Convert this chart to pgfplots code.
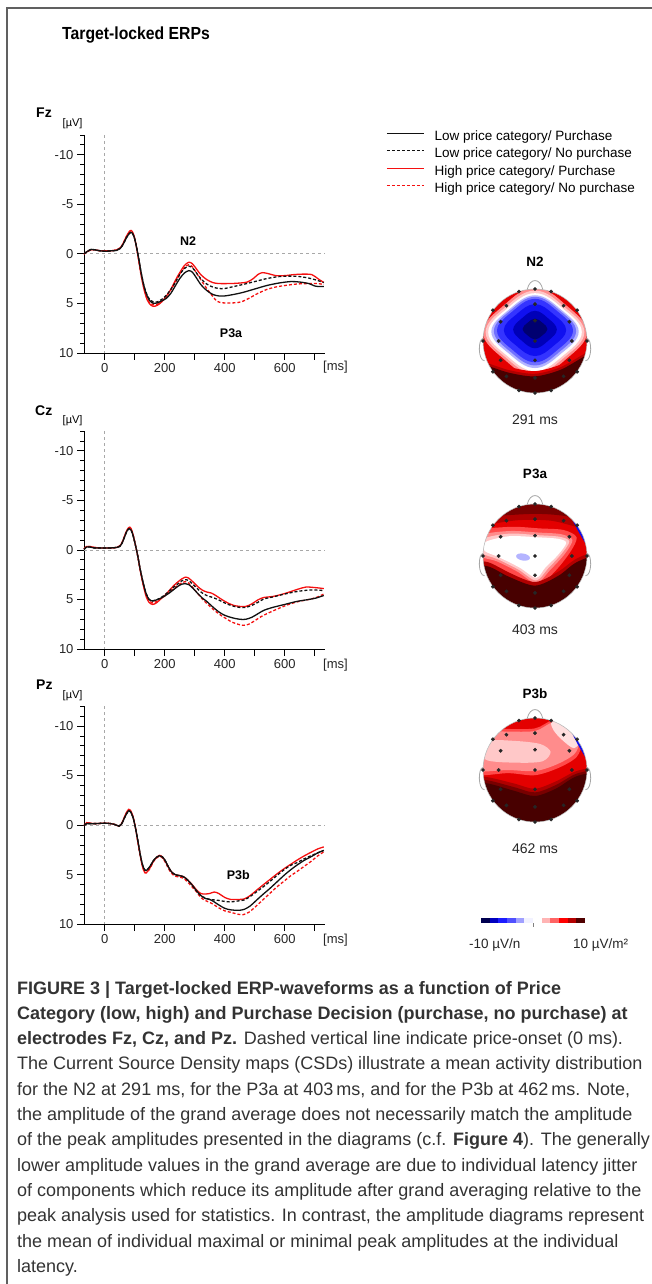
\documentclass[border=0pt]{standalone}
\usepackage{pgfplots}
\pgfplotsset{compat=1.18}
\usepackage{graphicx}
\usepackage{fontspec}
\setmainfont{Liberation Sans}

\definecolor{erpred}{HTML}{F51010}
\definecolor{erpblk}{HTML}{111111}
\definecolor{zgray}{HTML}{A8A8A8}
\definecolor{hb1}{HTML}{000070}
\definecolor{hb2}{HTML}{0000B8}
\definecolor{hb3}{HTML}{1010F0}
\definecolor{hb4}{HTML}{3434FF}
\definecolor{hb5}{HTML}{7070FF}
\definecolor{hb6}{HTML}{B4B4FF}
\definecolor{hp1}{HTML}{FFC8C8}
\definecolor{hp2}{HTML}{FF8C8C}
\definecolor{hp3}{HTML}{FF4A4A}
\definecolor{hr4}{HTML}{E40000}
\definecolor{hr5}{HTML}{B00000}
\definecolor{hr6}{HTML}{780000}
\definecolor{hr7}{HTML}{480000}
\definecolor{cb1}{HTML}{000050}
\definecolor{cb2}{HTML}{0000C0}
\definecolor{cb3}{HTML}{1C1CFF}
\definecolor{cb4}{HTML}{5050FF}
\definecolor{cb5}{HTML}{A0A0FF}
\definecolor{cb6}{HTML}{F2F2FF}
\definecolor{cb7}{HTML}{FFFFFF}
\definecolor{cb8}{HTML}{FFB4B4}
\definecolor{cb9}{HTML}{FF6464}
\definecolor{cb10}{HTML}{FF0000}
\definecolor{cb11}{HTML}{B40000}
\definecolor{cb12}{HTML}{500000}

\newcommand{\fs}[1]{\fontsize{#1}{#1}\selectfont}
\newcommand{\rdiam}[5]{\fill[#1] plot[smooth cycle, tension=0.7] coordinates {({#2},{#3+#5}) ({#2-0.6*#4},{#3+0.6*#5}) ({#2-#4},{#3}) ({#2-0.6*#4},{#3-0.6*#5}) ({#2},{#3-#5}) ({#2+0.6*#4},{#3-0.6*#5}) ({#2+#4},{#3}) ({#2+0.6*#4},{#3+0.6*#5})};}

\pgfplotsset{
  erp/.style={
    scale only axis, width=241pt, height=218pt, anchor=center,
    xmin=-69, xmax=734, ymin=-12, ymax=10, y dir=reverse,
    axis x line*=bottom, axis y line*=left,
    axis line style={black, line width=0.8pt, -},
    tick align=outside,
    xtick={0,100,...,700}, xticklabels={0,,200,,400,,600,},
    ytick={-10,-5,0,5,10}, yticklabels={-10,-5,0,5,10},
    minor ytick={-12,-11,...,10},
    major tick length=7pt, minor tick length=4pt,
    every tick/.style={black, line width=0.8pt},
    tick label style={font=\fs{13}, text=black!85},
    /pgf/number format/assume math mode=true,
    clip=false,
  },
  lp/.style={erpblk, line width=1.3pt, smooth},
  ln/.style={erpblk, line width=1.3pt, smooth, dash pattern=on 3pt off 2pt},
  hp/.style={erpred, line width=1.3pt, smooth},
  hn/.style={erpred, line width=1.3pt, smooth, dash pattern=on 3pt off 2pt},
  head/.style={scale only axis, width=135.2pt, height=135.2pt, anchor=center,
    xmin=-1.3, xmax=1.3, ymin=-1.3, ymax=1.3, hide axis, clip=false},
}

\newcommand{\zerolines}{%
  \draw[zgray, line width=0.7pt, dash pattern=on 3pt off 3pt] (axis cs:-69,0) -- (axis cs:734,0);
  \draw[zgray, line width=0.7pt, dash pattern=on 3pt off 3pt] (axis cs:0,-12) -- (axis cs:0,10);
}
\newcommand{\headmask}{%
  \fill[white, even odd rule] (-1.45,-1.45) rectangle (1.45,1.45) (0,0) circle[radius=52pt];
  \draw[gray!60, line width=0.5pt] (0,0) circle[radius=52pt];
  \draw[gray!70, line width=0.8pt] (-0.15,0.99) .. controls (-0.1,1.22) and (0.1,1.22) .. (0.15,0.99);
  \draw[gray!70, line width=0.8pt] (-0.995,0.05) .. controls (-1.1,0.05) and (-1.1,-0.38) .. (-0.97,-0.38);
  \draw[gray!70, line width=0.8pt] (0.995,0.05) .. controls (1.1,0.05) and (1.1,-0.38) .. (0.97,-0.38);
}
\newcommand{\electrodes}{%
  \addplot[only marks, mark=*, mark size=1.7pt, black!85] coordinates {
    (0,1) (-0.31,0.95) (0.31,0.95)
    (-0.81,0.59) (-0.55,0.68) (0,0.71) (0.55,0.68) (0.81,0.59)
    (-0.66,0.37) (0,0.39) (0.66,0.37)
    (-1,0) (-0.7,0) (0,0) (0.71,0) (1,0)
    (-0.66,-0.37) (0,-0.37) (0.66,-0.37)
    (-0.81,-0.59) (-0.55,-0.68) (0,-0.71) (0.55,-0.68) (0.81,-0.59)
    (-0.31,-0.95) (0,-1) (0.31,-0.95)};
}
\newcommand{\bluesliver}{%
  \fill[hb3] plot[smooth] coordinates {({1.0*cos(14)},{1.0*sin(14)}) ({0.968*cos(22)},{0.968*sin(22)}) ({0.958*cos(29)},{0.958*sin(29)}) ({0.968*cos(36)},{0.968*sin(36)}) ({1.0*cos(44)},{1.0*sin(44)})} -- ({1.1*cos(44)},{1.1*sin(44)}) -- ({1.1*cos(14)},{1.1*sin(14)}) -- cycle;
}

\begin{document}
\begin{tikzpicture}
\path[use as bounding box] (0,0) rectangle (652pt,-1284pt);
\draw[gray!75!black, line width=1.2pt] (7pt,-1284pt) -- (7pt,-8pt) -- (652pt,-8pt);

\node[anchor=base west, inner sep=0pt, font=\bfseries\fs{17.5}] at (62pt,-39.3pt) {\scalebox{0.9}[1]{Target-locked ERPs}};

% ---------------- Fz ----------------
\begin{axis}[erp, at={(204.5pt,-243.9pt)},
  legend style={at={(1.2407,1.028)}, anchor=north west, draw=none, fill=none,
    font=\fs{13.5}, legend cell align=left, row sep=5pt,
    nodes={inner sep=0pt, text height=9.6pt, text depth=2.8pt}},
  legend image code/.code={\draw[#1, line width=1.3pt] (0pt,3.8pt) -- (37pt,3.8pt); \path (47pt,0pt);}]
\addlegendimage{lp}\addlegendentry{Low price category/ Purchase}
\addlegendimage{ln}\addlegendentry{Low price category/ No purchase}
\addlegendimage{hp}\addlegendentry{High price category/ Purchase}
\addlegendimage{hn}\addlegendentry{High price category/ No purchase}
\zerolines
\addplot[hn, forget plot] coordinates {(-69,0.05)(-60,-0.2)(-45,-0.4)(-32,-0.4)(-15,-0.3)(0,-0.3)(20,-0.3)(40,-0.4)(52,-0.6)(62,-1.05)(72,-1.7)(82,-2.15)(89,-2.25)(97,-1.85)(105,-0.8)(113,0.6)(121,2.1)(131,3.5)(141,4.5)(151,5.0)(162,5.15)(175,5.1)(190,4.8)(205,4.3)(220,3.65)(235,2.9)(250,2.05)(265,1.4)(280,1.1)(292,1.3)(305,1.9)(320,2.6)(340,3.5)(360,4.3)(375,4.8)(395,4.95)(430,4.95)(455,4.85)(480,4.5)(510,4.0)(540,3.6)(570,3.35)(600,3.2)(640,3.05)(680,3.0)(710,3.0)(730,3.1)};
\addplot[hp, forget plot] coordinates {(-69,0.05)(-60,-0.2)(-45,-0.4)(-32,-0.4)(-15,-0.3)(0,-0.3)(20,-0.3)(40,-0.4)(52,-0.6)(62,-1.1)(72,-1.75)(82,-2.25)(89,-2.35)(97,-1.9)(105,-0.8)(113,0.6)(121,2.1)(131,3.6)(141,4.6)(151,5.1)(162,5.3)(175,5.2)(190,4.85)(205,4.3)(220,3.6)(235,2.7)(250,1.9)(265,1.2)(280,0.85)(292,1.0)(305,1.5)(320,2.1)(340,2.6)(360,2.9)(380,3.0)(420,3.0)(450,2.95)(475,2.85)(495,2.5)(510,2.1)(525,1.9)(545,2.0)(570,2.2)(600,2.2)(630,2.1)(660,2.05)(690,2.1)(710,2.5)(730,2.9)};
\addplot[ln, forget plot] coordinates {(-69,0.0)(-60,-0.2)(-45,-0.45)(-32,-0.4)(-15,-0.3)(0,-0.25)(20,-0.3)(40,-0.35)(52,-0.55)(62,-1.0)(72,-1.6)(82,-2.05)(90,-2.15)(98,-1.7)(106,-0.7)(114,0.6)(122,2.0)(132,3.35)(142,4.2)(152,4.7)(162,4.85)(175,4.85)(190,4.6)(205,4.2)(220,3.6)(235,2.9)(250,2.1)(265,1.5)(280,1.25)(292,1.4)(305,1.9)(320,2.5)(340,3.05)(360,3.35)(380,3.5)(400,3.5)(430,3.3)(460,3.1)(500,2.8)(540,2.5)(580,2.3)(620,2.25)(650,2.3)(680,2.45)(705,2.65)(730,2.9)};
\addplot[lp, forget plot] coordinates {(-69,0.0)(-60,-0.2)(-45,-0.45)(-32,-0.4)(-15,-0.3)(0,-0.25)(20,-0.3)(40,-0.35)(52,-0.55)(62,-1.0)(72,-1.6)(82,-2.05)(90,-2.15)(98,-1.7)(106,-0.7)(114,0.6)(122,2.0)(132,3.4)(142,4.3)(152,4.8)(162,5.0)(175,4.95)(190,4.75)(205,4.5)(220,4.0)(235,3.25)(250,2.5)(265,1.95)(280,1.7)(292,1.85)(305,2.4)(320,3.1)(340,3.7)(360,4.1)(380,4.25)(400,4.25)(430,4.1)(460,3.9)(500,3.55)(540,3.2)(580,2.95)(620,2.8)(650,2.85)(680,3.0)(700,3.25)(715,3.3)(730,3.3)};
\node[font=\bfseries\fs{12.5}] at (axis cs:278,-1.3) {N2};
\node[font=\bfseries\fs{12.5}] at (axis cs:421,8.0) {P3a};
\end{axis}

% ---------------- Cz ----------------
\begin{axis}[erp, at={(204.5pt,-540pt)}]
\zerolines
\addplot[hn] coordinates {(-69,-0.1)(-60,-0.35)(-50,-0.35)(-35,-0.25)(-15,-0.2)(0,-0.2)(20,-0.2)(40,-0.25)(50,-0.4)(58,-0.75)(66,-1.35)(74,-1.95)(82,-2.2)(88,-2.05)(95,-1.45)(103,-0.4)(110,0.6)(118,2.0)(128,3.4)(138,4.5)(148,5.1)(160,5.35)(172,5.2)(185,4.95)(200,4.65)(215,4.3)(230,3.9)(245,3.55)(258,3.3)(268,3.2)(280,3.35)(295,3.85)(310,4.4)(325,4.95)(340,5.4)(360,5.95)(380,6.45)(400,6.85)(425,7.3)(450,7.55)(465,7.6)(480,7.5)(500,7.15)(520,6.75)(550,6.3)(600,5.65)(640,5.25)(680,5.0)(705,4.8)(730,4.45)};
\addplot[hp] coordinates {(-69,-0.1)(-60,-0.35)(-50,-0.35)(-35,-0.25)(-15,-0.2)(0,-0.2)(20,-0.2)(40,-0.25)(50,-0.4)(58,-0.75)(66,-1.4)(74,-2.0)(82,-2.3)(88,-2.15)(95,-1.5)(103,-0.4)(110,0.6)(118,2.0)(128,3.5)(138,4.7)(148,5.3)(160,5.5)(172,5.35)(185,5.0)(200,4.6)(215,4.1)(230,3.6)(245,3.2)(258,2.9)(268,2.75)(280,2.85)(295,3.25)(310,3.7)(325,4.05)(340,4.25)(355,4.35)(370,4.6)(390,5.0)(410,5.35)(430,5.6)(450,5.7)(470,5.7)(490,5.45)(510,5.05)(530,4.8)(560,4.7)(600,4.4)(640,4.0)(670,3.75)(700,3.8)(730,3.9)};
\addplot[ln] coordinates {(-69,-0.05)(-60,-0.3)(-50,-0.3)(-35,-0.2)(-15,-0.2)(0,-0.2)(20,-0.2)(40,-0.25)(50,-0.35)(58,-0.7)(66,-1.3)(74,-1.9)(82,-2.15)(88,-2.0)(95,-1.4)(103,-0.4)(110,0.6)(118,1.9)(128,3.3)(138,4.4)(148,5.0)(160,5.15)(172,5.05)(185,4.85)(200,4.55)(215,4.15)(230,3.75)(245,3.4)(258,3.1)(268,3.0)(280,3.1)(295,3.5)(310,3.95)(325,4.35)(340,4.6)(360,4.8)(380,5.05)(400,5.35)(425,5.65)(450,5.8)(470,5.8)(490,5.6)(510,5.3)(530,4.95)(560,4.75)(600,4.45)(640,4.2)(680,4.05)(705,4.05)(730,4.1)};
\addplot[lp] coordinates {(-69,-0.05)(-60,-0.3)(-50,-0.3)(-35,-0.2)(-15,-0.2)(0,-0.2)(20,-0.2)(40,-0.25)(50,-0.35)(58,-0.7)(66,-1.3)(74,-1.9)(82,-2.15)(88,-2.0)(95,-1.4)(103,-0.4)(110,0.6)(118,1.9)(128,3.3)(138,4.4)(148,5.0)(160,5.15)(172,5.05)(185,4.9)(200,4.65)(215,4.35)(230,4.0)(245,3.65)(258,3.45)(268,3.4)(280,3.5)(295,3.9)(310,4.4)(325,4.85)(340,5.2)(360,5.75)(380,6.25)(400,6.6)(425,6.85)(450,7.0)(470,7.0)(490,6.8)(510,6.45)(530,6.1)(560,5.8)(600,5.5)(640,5.2)(680,5.0)(705,4.85)(730,4.6)};
\end{axis}

% ---------------- Pz ----------------
\begin{axis}[erp, at={(204.5pt,-815.2pt)}]
\zerolines
\addplot[hn] coordinates {(-69,0.05)(-60,-0.2)(-50,-0.2)(-30,-0.15)(0,-0.2)(20,-0.15)(35,-0.05)(48,0.1)(56,-0.1)(64,-0.65)(72,-1.2)(80,-1.5)(86,-1.4)(94,-0.85)(102,0.2)(110,1.6)(118,3.0)(126,4.2)(134,4.8)(142,4.75)(152,4.3)(162,3.7)(172,3.35)(182,3.15)(192,3.3)(202,3.75)(212,4.35)(222,4.85)(235,5.15)(250,5.25)(262,5.35)(275,5.7)(290,6.2)(305,6.7)(320,7.3)(335,7.6)(350,7.8)(365,8.05)(380,8.35)(400,8.65)(420,8.8)(445,9.0)(460,9.05)(480,8.8)(500,8.3)(525,7.6)(550,6.9)(575,6.2)(600,5.6)(620,5.1)(640,4.7)(665,4.15)(690,3.6)(710,3.1)(730,2.7)};
\addplot[hp] coordinates {(-69,0.05)(-60,-0.25)(-50,-0.2)(-30,-0.15)(0,-0.2)(20,-0.15)(35,-0.05)(48,0.1)(56,-0.15)(64,-0.7)(72,-1.25)(80,-1.6)(86,-1.5)(94,-0.9)(102,0.2)(110,1.6)(118,3.0)(126,4.2)(134,4.8)(142,4.7)(152,4.25)(162,3.65)(172,3.3)(182,3.05)(192,3.2)(202,3.65)(212,4.2)(222,4.7)(235,5.0)(250,5.1)(262,5.2)(275,5.5)(290,5.95)(305,6.5)(320,6.9)(335,6.95)(350,6.9)(365,6.75)(380,6.9)(400,7.3)(420,7.5)(445,7.5)(465,7.45)(485,7.1)(505,6.6)(525,6.1)(550,5.5)(575,4.9)(600,4.35)(620,3.95)(640,3.55)(665,3.1)(690,2.7)(710,2.4)(730,2.2)};
\addplot[ln] coordinates {(-69,0.05)(-60,-0.15)(-50,-0.15)(-30,-0.15)(0,-0.2)(20,-0.15)(35,-0.05)(48,0.1)(56,-0.1)(64,-0.6)(72,-1.1)(80,-1.45)(86,-1.35)(94,-0.8)(102,0.2)(110,1.5)(118,2.9)(126,4.0)(134,4.55)(142,4.5)(152,4.1)(162,3.6)(172,3.25)(182,3.1)(192,3.2)(202,3.6)(212,4.2)(222,4.7)(235,5.0)(250,5.1)(262,5.2)(275,5.5)(290,6.0)(305,6.6)(320,7.1)(335,7.35)(350,7.5)(365,7.55)(380,7.6)(400,7.7)(420,7.75)(445,7.65)(465,7.55)(485,7.2)(505,6.75)(525,6.3)(550,5.7)(575,5.05)(600,4.45)(620,4.05)(640,3.8)(665,3.4)(690,3.05)(710,2.8)(730,2.55)};
\addplot[lp] coordinates {(-69,0.05)(-60,-0.15)(-50,-0.15)(-30,-0.15)(0,-0.2)(20,-0.15)(35,-0.05)(48,0.1)(56,-0.1)(64,-0.6)(72,-1.1)(80,-1.45)(86,-1.35)(94,-0.8)(102,0.2)(110,1.5)(118,2.9)(126,4.0)(134,4.55)(142,4.5)(152,4.1)(162,3.6)(172,3.25)(182,3.1)(192,3.2)(202,3.6)(212,4.2)(222,4.7)(235,5.0)(250,5.1)(262,5.2)(275,5.5)(290,6.0)(305,6.6)(320,7.1)(335,7.4)(350,7.5)(365,7.75)(380,8.05)(400,8.4)(420,8.55)(445,8.6)(465,8.5)(485,8.15)(505,7.6)(525,7.05)(550,6.4)(575,5.7)(600,5.0)(620,4.5)(640,4.05)(665,3.55)(690,3.15)(710,2.8)(730,2.55)};
\node[font=\bfseries\fs{12.5}] at (axis cs:445,5.0) {P3b};
\end{axis}

% ---------------- heads ----------------
\begin{axis}[head, at={(535pt,-341pt)}]
\fill[hr4] (-1.35,-1.35) rectangle (1.35,1.35);
\rdiam{hp2}{0}{0.17}{1.0}{0.86}
\rdiam{hp1}{0}{0.17}{0.95}{0.8}
\rdiam{white}{0}{0.17}{0.9}{0.75}
\rdiam{hb6}{0}{0.18}{0.84}{0.7}
\rdiam{hb5}{0}{0.19}{0.79}{0.66}
\rdiam{hb4}{0}{0.2}{0.73}{0.61}
\rdiam{hb3}{0}{0.21}{0.6}{0.5}
\rdiam{hb2}{0}{0.22}{0.42}{0.36}
\rdiam{hb1}{0}{0.23}{0.24}{0.2}
\fill[hr4] plot[smooth] coordinates {(-1.35,-0.3) (-1,-0.36) (-0.5,-0.5) (0,-0.58) (0.5,-0.45) (1,-0.18) (1.35,-0.05)} -- (1.35,-1.35) -- (-1.35,-1.35) -- cycle;
\fill[hr5] plot[smooth] coordinates {(-1.35,-0.35) (-1,-0.4) (-0.5,-0.56) (0,-0.63) (0.5,-0.5) (1,-0.22) (1.35,-0.1)} -- (1.35,-1.35) -- (-1.35,-1.35) -- cycle;
\fill[hr7] plot[smooth] coordinates {(-1.35,-0.4) (-1,-0.45) (-0.5,-0.61) (0,-0.68) (0.5,-0.55) (1,-0.27) (1.35,-0.15)} -- (1.35,-1.35) -- (-1.35,-1.35) -- cycle;
\headmask
\electrodes
\end{axis}

\begin{axis}[head, at={(535pt,-556pt)}]
\fill[hr4] (-1.35,-1.35) rectangle (1.35,1.35);
\fill[hr5] plot[smooth] coordinates {(-1.35,0.5) (-0.8,0.62) (-0.3,0.69) (0.3,0.68) (0.8,0.56) (1.35,0.42)} -- (1.35,1.35) -- (-1.35,1.35) -- cycle;
\fill[hr6] plot[smooth] coordinates {(-1.35,0.72) (-0.6,0.78) (0,0.81) (0.5,0.78) (1.35,0.65)} -- (1.35,1.35) -- (-1.35,1.35) -- cycle;
\fill[hp3] plot[smooth cycle] coordinates {(-1.2,0.45) (-0.5,0.56) (0.1,0.53) (0.55,0.5) (0.8,0.36) (0.68,0.08) (0.38,-0.3) (0.02,-0.6) (-0.38,-0.38) (-0.8,-0.17) (-1.2,-0.05)};
\fill[hp2] plot[smooth cycle] coordinates {(-1.1,0.38) (-0.5,0.48) (0.08,0.45) (0.5,0.42) (0.72,0.31) (0.58,0.05) (0.3,-0.26) (0.02,-0.52) (-0.34,-0.3) (-0.74,-0.1) (-1.1,0.02)};
\fill[hp1] plot[smooth cycle] coordinates {(-1.02,0.32) (-0.5,0.43) (0.06,0.4) (0.47,0.37) (0.66,0.28) (0.5,0.03) (0.25,-0.24) (0.02,-0.47) (-0.32,-0.26) (-0.72,-0.06) (-1.02,0.06)};
\fill[white] plot[smooth cycle] coordinates {(-0.95,0.27) (-0.5,0.38) (0.05,0.36) (0.45,0.33) (0.6,0.25) (0.44,0.02) (0.2,-0.22) (0.02,-0.42) (-0.3,-0.22) (-0.7,-0.02) (-0.97,0.1)};
\fill[hb6] (-0.23,-0.02) ellipse[x radius=7pt, y radius=3.5pt, rotate=-10];
\fill[hr5] plot[smooth] coordinates {(-1.35,-0.08) (-0.9,-0.12) (-0.5,-0.32) (0,-0.5) (0.45,-0.3) (0.8,-0.05) (1.35,0.18)} -- (1.35,-1.35) -- (-1.35,-1.35) -- cycle;
\fill[hr7] plot[smooth] coordinates {(-1.35,-0.16) (-0.9,-0.2) (-0.5,-0.4) (0,-0.57) (0.45,-0.38) (0.8,-0.12) (1.35,0.1)} -- (1.35,-1.35) -- (-1.35,-1.35) -- cycle;
\bluesliver
\headmask
\electrodes
\end{axis}

\begin{axis}[head, at={(535pt,-770pt)}]
\fill[hr4] (-1.35,-1.35) rectangle (1.35,1.35);
\fill[hp3] plot[smooth cycle] coordinates {(-1.3,0.8) (-0.6,0.79) (0,0.8) (0.35,0.96) (0.75,0.9) (0.9,0.55) (0.8,0.25) (0.45,0.04) (0,-0.1) (-0.5,-0.06) (-1.3,-0.05)};
\fill[hp2] plot[smooth cycle] coordinates {(-1.3,0.75) (-0.6,0.74) (0,0.75) (0.35,0.92) (0.7,0.85) (0.85,0.55) (0.75,0.3) (0.4,0.1) (0,-0.02) (-0.5,0.0) (-1.3,0.02)};
\fill[hp1] plot[smooth cycle] coordinates {(-0.95,0.55) (-0.4,0.56) (0.1,0.5) (0.3,0.35) (0.15,0.17) (-0.3,0.14) (-0.95,0.2)};
\fill[hp1!60!white] plot[smooth cycle] coordinates {(0.32,0.92) (0.6,0.95) (0.88,0.62) (0.75,0.42) (0.52,0.58) (0.36,0.76)};
\fill[hr5] plot[smooth] coordinates {(-1.35,-0.1) (-0.9,-0.14) (-0.4,-0.26) (0,-0.36) (0.4,-0.22) (0.8,-0.02) (1.35,0.1)} -- (1.35,-1.35) -- (-1.35,-1.35) -- cycle;
\fill[hr6] plot[smooth] coordinates {(-1.35,-0.16) (-0.9,-0.2) (-0.4,-0.33) (0,-0.43) (0.4,-0.29) (0.8,-0.07) (1.35,0.05)} -- (1.35,-1.35) -- (-1.35,-1.35) -- cycle;
\fill[hr7] plot[smooth] coordinates {(-1.35,-0.22) (-0.9,-0.26) (-0.4,-0.4) (0,-0.5) (0.4,-0.36) (0.8,-0.12) (1.35,0.0)} -- (1.35,-1.35) -- (-1.35,-1.35) -- cycle;
\bluesliver
\headmask
\electrodes
\end{axis}

% colour bar
\begin{axis}[scale only axis, width=104pt, height=5pt, anchor=center, at={(533pt,-920.5pt)},
  xmin=0, xmax=12, ymin=0, ymax=1, hide axis, clip=false]
\fill[cb1] (0,0) rectangle (1,1);
\fill[cb2] (1,0) rectangle (2,1);
\fill[cb3] (2,0) rectangle (3,1);
\fill[cb4] (3,0) rectangle (4,1);
\fill[cb5] (4,0) rectangle (5,1);
\fill[cb6] (5,0) rectangle (6,1);
\fill[cb7] (6,0) rectangle (7,1);
\fill[cb8] (7,0) rectangle (8,1);
\fill[cb9] (8,0) rectangle (9,1);
\fill[cb10] (9,0) rectangle (10,1);
\fill[cb11] (10,0) rectangle (11,1);
\fill[cb12] (11,0) rectangle (12,1);
\draw[gray, line width=0.6pt] (6,0) -- ++(0pt,-4pt);
\end{axis}

% channel labels
\node[anchor=base west, inner sep=0pt, font=\bfseries\fs{14}] at (36pt,-118pt) {Fz};
\node[anchor=base west, inner sep=0pt, font=\fs{11}] at (62.5pt,-127pt) {[µV]};
\node[anchor=base west, inner sep=0pt, font=\bfseries\fs{14}] at (35pt,-415pt) {Cz};
\node[anchor=base west, inner sep=0pt, font=\fs{11}] at (62.5pt,-423pt) {[µV]};
\node[anchor=base west, inner sep=0pt, font=\bfseries\fs{14}] at (36pt,-689pt) {Pz};
\node[anchor=base west, inner sep=0pt, font=\fs{11}] at (62.5pt,-698pt) {[µV]};
\node[anchor=base west, inner sep=0pt, font=\fs{13}, text=black!85] at (323pt,-370.5pt) {[ms]};
\node[anchor=base west, inner sep=0pt, font=\fs{13}, text=black!85] at (323pt,-668pt) {[ms]};
\node[anchor=base west, inner sep=0pt, font=\fs{13}, text=black!85] at (323pt,-943pt) {[ms]};

% head labels
\node[font=\bfseries\fs{13.5}] at (535pt,-262pt) {N2};
\node[font=\fs{14}, text=black!85] at (535pt,-420pt) {291 ms};
\node[font=\bfseries\fs{13.5}] at (535pt,-474pt) {P3a};
\node[font=\fs{14}, text=black!85] at (535pt,-630pt) {403 ms};
\node[font=\bfseries\fs{13.5}] at (535pt,-694pt) {P3b};
\node[font=\fs{14}, text=black!85] at (535pt,-849pt) {462 ms};
\node[anchor=base west, inner sep=0pt, font=\fs{13.5}, text=black!85] at (469pt,-948pt) {-10 µV/n};
\node[anchor=base west, inner sep=0pt, font=\fs{13.5}, text=black!85] at (573pt,-948pt) {10 µV/m²};

% caption
\begin{scope}[every node/.style={anchor=base west, inner sep=0pt, font=\fs{18}, text=black!80}]
\node at (17pt,-994pt) {\textbf{FIGURE 3 | Target-locked ERP-waveforms as a function of Price}};
\node at (17pt,-1019.3pt) {\textbf{Category (low, high) and Purchase Decision (purchase, no purchase) at}};
\node at (17pt,-1044.6pt) {\textbf{electrodes Fz, Cz, and Pz.} Dashed vertical line indicate price-onset (0 ms).};
\node at (17pt,-1069.9pt) {The Current Source Density maps (CSDs) illustrate a mean activity distribution};
\node at (17pt,-1095.2pt) {for the N2 at 291 ms, for the P3a at 403\,ms, and for the P3b at 462\,ms. Note,};
\node at (17pt,-1120.5pt) {the amplitude of the grand average does not necessarily match the amplitude};
\node at (17pt,-1145.8pt) {of the peak amplitudes presented in the diagrams (c.f. \textbf{Figure 4}). The generally};
\node at (17pt,-1171.1pt) {lower amplitude values in the grand average are due to individual latency jitter};
\node at (17pt,-1196.4pt) {of components which reduce its amplitude after grand averaging relative to the};
\node at (17pt,-1221.7pt) {peak analysis used for statistics. In contrast, the amplitude diagrams represent};
\node at (17pt,-1247pt) {the mean of individual maximal or minimal peak amplitudes at the individual};
\node at (17pt,-1272.3pt) {latency.};
\end{scope}
\end{tikzpicture}
\end{document}
